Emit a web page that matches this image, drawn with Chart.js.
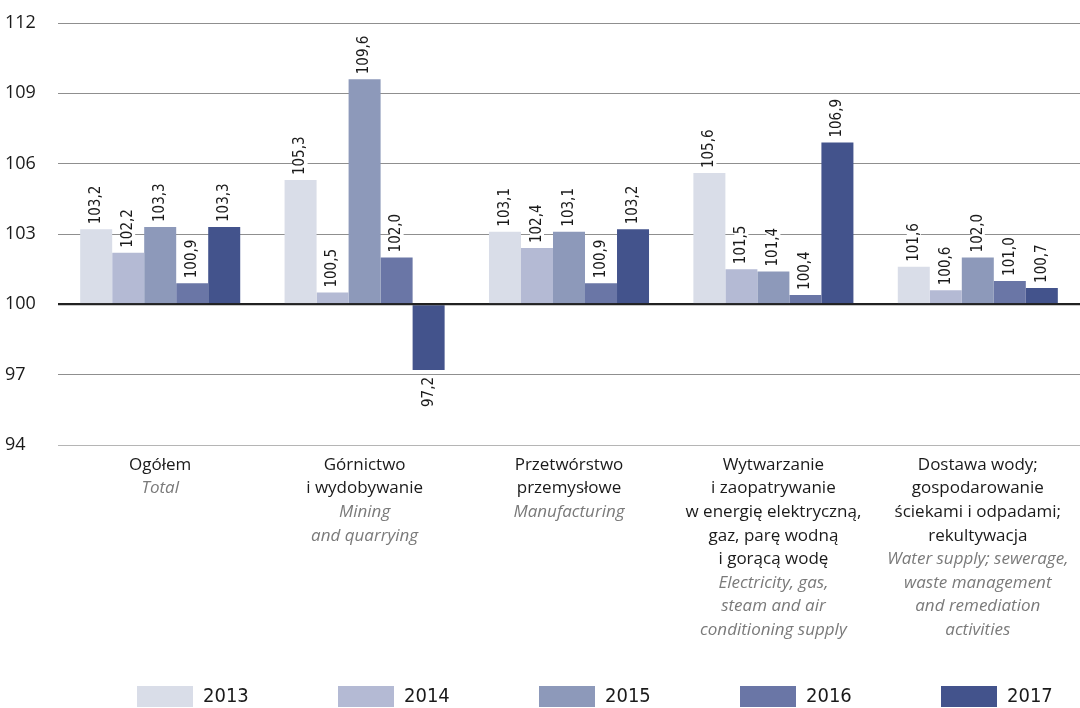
<!DOCTYPE html>
<html>
<head>
<meta charset="utf-8">
<script src="https://cdn.jsdelivr.net/npm/chart.js@4/dist/chart.umd.min.js"></script>
<style>
  body { margin: 0; background: #fff; }
  #wrap { width: 1080px; height: 708px; }
</style>
</head>
<body>
<div id="wrap"><canvas id="chart"></canvas></div>
<script>
var years = ['2013', '2014', '2015', '2016', '2017'];
var colors = ['#d9dde8', '#b4bad4', '#8d99ba', '#6a76a6', '#43538c'];

var labelsPl = [
  ['Ogółem'],
  ['Górnictwo', 'i wydobywanie'],
  ['Przetwórstwo', 'przemysłowe'],
  ['Wytwarzanie', 'i zaopatrywanie', 'w energię elektryczną,', 'gaz, parę wodną', 'i gorącą wodę'],
  ['Dostawa wody;', 'gospodarowanie', 'ściekami i odpadami;', 'rekultywacja']
];
var labelsEn = [
  ['Total'],
  ['Mining', 'and quarrying'],
  ['Manufacturing'],
  ['Electricity, gas,', 'steam and air', 'conditioning supply'],
  ['Water supply; sewerage,', 'waste management', 'and remediation', 'activities']
];

var v2013 = [103.2, 105.3, 103.1, 105.6, 101.6];
var v2014 = [102.2, 100.5, 102.4, 101.5, 100.6];
var v2015 = [103.3, 109.6, 103.1, 101.4, 102.0];
var v2016 = [100.9, 102.0, 100.9, 100.4, 101.0];
var v2017 = [103.3, 97.2, 103.2, 106.9, 100.7];
var series = [v2013, v2014, v2015, v2016, v2017];

var yTicks = [94, 97, 100, 103, 106, 109, 112];

var condensed = "'Liberation Sans Narrow', 'DejaVu Sans Condensed', sans-serif";

function fmt(v) {
  return v.toFixed(1).replace('.', ',');
}

// value labels, rotated, with white background; zero line over the bars
var valueLabels = {
  id: 'valueLabels',
  afterDatasetsDraw: function(chart) {
    var ctx = chart.ctx;
    var y = chart.scales.y;
    var area = chart.chartArea;
    ctx.save();
    var y0 = y.getPixelForValue(100);
    ctx.strokeStyle = '#222';
    ctx.lineWidth = 2;
    ctx.beginPath();
    ctx.moveTo(area.left, y0);
    ctx.lineTo(area.right, y0);
    ctx.stroke();

    ctx.font = '15px ' + condensed;
    ctx.textBaseline = 'middle';
    chart.data.datasets.forEach(function(ds, d) {
      var meta = chart.getDatasetMeta(d);
      meta.data.forEach(function(bar, i) {
        var v = ds.data[i];
        var txt = fmt(v);
        var w = ctx.measureText(txt).width;
        var py = y.getPixelForValue(v);
        ctx.save();
        ctx.translate(bar.x, py);
        ctx.rotate(-Math.PI / 2);
        if (v >= 100) {
          ctx.fillStyle = '#fff';
          ctx.fillRect(3, -7, w + 4, 14);
          ctx.fillStyle = '#1a1a1a';
          ctx.textAlign = 'left';
          ctx.fillText(txt, 5, 0);
        } else {
          ctx.fillStyle = '#fff';
          ctx.fillRect(-w - 9, -7, w + 4, 14);
          ctx.fillStyle = '#1a1a1a';
          ctx.textAlign = 'right';
          ctx.fillText(txt, -7, 0);
        }
        ctx.restore();
      });
    });
    ctx.restore();
  }
};

// two-language category labels under the axis
var categoryLabels = {
  id: 'categoryLabels',
  afterDraw: function(chart) {
    var ctx = chart.ctx;
    var x = chart.scales.x;
    var lh = 23.6;
    ctx.save();
    ctx.textAlign = 'center';
    ctx.textBaseline = 'middle';
    labelsPl.forEach(function(lines, i) {
      var cx = x.getPixelForValue(i);
      var cy = 465;
      ctx.font = "17px 'Open Sans'";
      ctx.fillStyle = '#1a1a1a';
      lines.forEach(function(l) { ctx.fillText(l, cx, cy); cy += lh; });
      ctx.font = "italic 17px 'Open Sans'";
      ctx.fillStyle = '#7a7a7a';
      labelsEn[i].forEach(function(l) { ctx.fillText(l, cx, cy); cy += lh; });
    });
    ctx.restore();
  }
};

var legendRow = {
  id: 'legendRow',
  afterDraw: function(chart) {
    var ctx = chart.ctx;
    ctx.save();
    ctx.font = '20px ' + condensed;
    ctx.textBaseline = 'middle';
    ctx.textAlign = 'left';
    chart.data.datasets.forEach(function(ds, i) {
      var lx = 137 + i * 201;
      ctx.fillStyle = ds.backgroundColor;
      ctx.fillRect(lx, 686, 56, 21);
      ctx.fillStyle = '#1a1a1a';
      ctx.fillText(ds.label, lx + 66, 697);
    });
    ctx.restore();
  }
};

var datasets = years.map(function(yr, i) {
  return {
    label: yr,
    data: series[i],
    base: 100,
    backgroundColor: colors[i],
    borderWidth: 0,
    categoryPercentage: 0.783,
    barPercentage: 1
  };
});

new Chart(document.getElementById('chart'), {
  type: 'bar',
  data: {
    labels: labelsPl.map(function(l) { return l.join(' '); }),
    datasets: datasets
  },
  options: {
    responsive: true,
    maintainAspectRatio: false,
    animation: false,
    layout: { padding: { left: 5, top: 23, right: 0, bottom: 255 } },
    plugins: {
      legend: { display: false },
      tooltip: { enabled: false }
    },
    scales: {
      x: {
        grid: { display: false },
        border: { display: false },
        ticks: { display: false }
      },
      y: {
        min: 94,
        max: 112,
        afterBuildTicks: function(s) {
          s.ticks = yTicks.map(function(v) { return { value: v }; });
        },
        afterFit: function(s) { s.width = 53; },
        border: { display: false },
        grid: {
          drawTicks: false,
          color: function(c) {
            if (c.tick && c.tick.value === 100) return '#222';
            if (c.tick && c.tick.value === 94) return '#b5b5b5';
            return '#8f8f8f';
          },
          lineWidth: function(c) {
            return c.tick && c.tick.value === 100 ? 2 : 1;
          }
        },
        ticks: {
          crossAlign: 'far',
          padding: 0,
          color: '#1a1a1a',
          font: { family: 'Open Sans', size: 18 }
        }
      }
    }
  },
  plugins: [valueLabels, categoryLabels, legendRow]
});
</script>
</body>
</html>
